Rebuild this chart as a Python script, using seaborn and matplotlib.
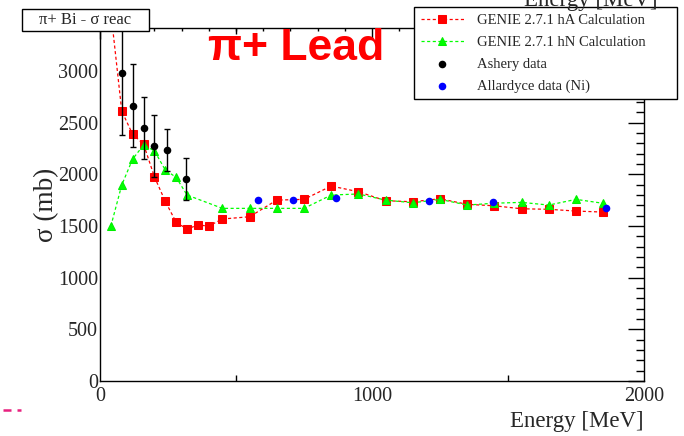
import matplotlib
matplotlib.use("Agg")
import matplotlib.pyplot as plt
from matplotlib.lines import Line2D
from matplotlib.patches import Rectangle
import numpy as np
import pandas as pd
import seaborn as sns

# ---------------- data ----------------
ha_energy = [40, 80, 120, 160, 200, 240, 280, 320, 360, 400, 450, 550, 650, 750,
             850, 950, 1050, 1150, 1250, 1350, 1450, 1550, 1650, 1750, 1850]
ha_sigma = [3570, 2611, 2386, 2292, 1976, 1738, 1535, 1470, 1509, 1499, 1567, 1589,
            1750, 1757, 1886, 1831, 1744, 1734, 1763, 1709, 1695, 1666, 1661, 1644, 1634]

hn_energy = [40, 80, 120, 160, 200, 240, 280, 320, 450, 550, 650, 750,
             850, 950, 1050, 1150, 1250, 1350, 1450, 1550, 1650, 1750, 1850]
hn_sigma = [1499, 1896, 2147, 2282, 2227, 2041, 1970, 1799, 1670, 1670, 1670, 1670,
            1799, 1809, 1750, 1724, 1757, 1702, 1720, 1728, 1702, 1757, 1719]

ashery_energy = [80, 120, 160, 200, 245, 315]
ashery_sigma = [2982, 2662, 2444, 2270, 2234, 1954]
ashery_err = [600, 400, 300, 300, 200, 200]

allardyce_energy = [582, 708, 868, 1210, 1446, 1859]
allardyce_sigma = [1750, 1750, 1773, 1744, 1734, 1670]

labels = ["GENIE 2.7.1 hA Calculation", "GENIE 2.7.1 hN Calculation",
          "Ashery data", "Allardyce data (Ni)"]

x_ticks = [0, 1000, 2000]
y_ticks = [0, 500, 1000, 1500, 2000, 2500, 3000]

# ---------------- style ----------------
sns.set_style("white")
serif = ["Liberation Serif", "DejaVu Serif"]
plt.rcParams["font.family"] = serif

W, H = 684, 436
fig = plt.figure(figsize=(W / 100, H / 100), dpi=100)
fig.patch.set_facecolor("white")
ax = fig.add_axes([100 / W, 1 - 381 / H, 544 / W, 352.5 / H])
ax.set_facecolor("white")

dash = (0, (2.5, 2.0))
sns.lineplot(x=ha_energy, y=ha_sigma, ax=ax, color="red", marker="s",
             markersize=5.4, markeredgecolor="red", linewidth=0.9,
             linestyle=dash, label=labels[0], sort=True, estimator=None)
sns.lineplot(x=hn_energy, y=hn_sigma, ax=ax, color="#00ff00", marker="^",
             markersize=6.3, markeredgecolor="#00ee00", linewidth=0.9,
             linestyle=dash, label=labels[1], sort=True, estimator=None)

ax.errorbar(ashery_energy, ashery_sigma, yerr=ashery_err, fmt="none",
            ecolor="black", elinewidth=1.0, capsize=2.5, capthick=1.0, zorder=3)
sns.scatterplot(x=ashery_energy, y=ashery_sigma, ax=ax, color="black", s=30,
                edgecolor="black", linewidth=0, label=labels[2], zorder=4)
sns.scatterplot(x=allardyce_energy, y=allardyce_sigma, ax=ax, color="#0000ff",
                s=30, edgecolor="#0000ff", linewidth=0, label=labels[3], zorder=4)

ax.set_xlim(0, 2000)
ax.set_ylim(0, 3410)

# ticks
ax.set_xticks(x_ticks)
ax.set_xticklabels([str(v) for v in x_ticks])
ax.set_xticks(np.arange(0, 2001, 100), minor=True)
ax.set_yticks(y_ticks)
ax.set_yticklabels([str(v) for v in y_ticks])
ax.set_yticks(np.arange(0, 3401, 100), minor=True)
ax.tick_params(axis="both", which="both", direction="in", top=True, right=True,
               color="black", width=1.0)
ax.tick_params(axis="x", which="major", length=8, labelsize=14.5, pad=4)
ax.tick_params(axis="x", which="minor", length=2.3)
ax.tick_params(axis="y", which="major", length=11.5, labelsize=14.5, pad=1.5)
ax.tick_params(axis="y", which="minor", length=5.8)
for lab in ax.get_xticklabels() + ax.get_yticklabels():
    lab.set_family(serif)

# medium ticks at 500 / 1500
for loc in ("bottom", "top"):
    sec = ax.secondary_xaxis(loc)
    sec.set_xticks([500, 1500])
    sec.tick_params(direction="in", length=4.2, width=1.0, labelbottom=False,
                    labeltop=False, color="black")
    sec.set_xticklabels(["", ""])
    for s in sec.spines.values():
        s.set_visible(False)

for s in ax.spines.values():
    s.set_color("black")
    s.set_linewidth(1.0)

# axis labels
ax.set_xlabel("Energy [MeV]", fontsize=16.5, ha="right", family=serif)
ax.xaxis.set_label_coords(1.0, -0.085)
ax.set_ylabel("σ (mb)", fontsize=19.5, family=serif)
ax.yaxis.set_label_coords(-0.075, 0.50)

# legend
leg = ax.legend(loc="upper left",
                bbox_to_anchor=(414 / W, (H - 97) / H, 263 / W, 90 / H),
                bbox_transform=fig.transFigure, mode="expand", borderaxespad=0,
                frameon=True, fancybox=False, shadow=False,
                framealpha=1, edgecolor="black", handlelength=3.0,
                handletextpad=0.9, labelspacing=0.6, borderpad=0.45,
                prop={"family": serif, "size": 10.5})
leg.get_frame().set_linewidth(1.0)

# clipped title text at the very top (cut off in the original too)
fig.text(658 / W, 1 - 6 / H, "Energy [MeV]", ha="right", va="baseline",
         fontsize=16.5, family=serif, zorder=0)

# boxed title
fig.add_artist(Rectangle((22 / W, 1 - 31 / H), 127 / W, 22 / H,
                         transform=fig.transFigure, facecolor="white",
                         edgecolor="black", linewidth=1.0, zorder=5))
fig.text(85.5 / W, 1 - 20 / H, "π+ Bi - σ reac", ha="center", va="center",
         fontsize=12, family=serif, zorder=6)

# red annotation
fig.text(208 / W, 1 - 60 / H, "π+ Lead", ha="left", va="baseline",
         fontsize=32, color="red", fontweight="bold",
         family=["Liberation Sans", "DejaVu Sans"])

# small pink dashes in the lower-left corner
for x0, x1 in ((3, 11), (17, 21)):
    fig.add_artist(Line2D([x0 / W, x1 / W], [1 - 410 / H, 1 - 410 / H],
                          color="#e8207f", linewidth=1.8, solid_capstyle="butt"))

fig.savefig("out.png", dpi=100, facecolor="white")
